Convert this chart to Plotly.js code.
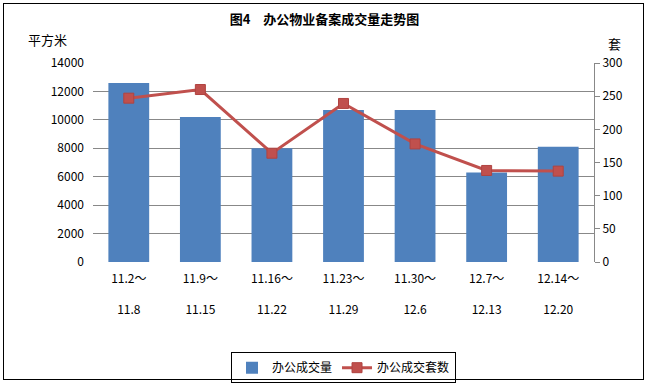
<!DOCTYPE html>
<html><head><meta charset="utf-8">
<script src="https://cdn.plot.ly/plotly-3.0.1.min.js"></script>
<style>
body{margin:0;padding:0;background:#fff;}
#wrap{position:relative;width:649px;height:385px;}
#chart{width:649px;height:385px;}
#frame{position:absolute;left:3px;top:3px;width:641px;height:377px;border:1px solid #000;box-sizing:border-box;pointer-events:none;}
</style></head>
<body>
<div id="wrap"><div id="chart"></div><div id="frame"></div></div>
<script>
const categories = ["11.2～<br><br>11.8","11.9～<br><br>11.15","11.16～<br><br>11.22","11.23～<br><br>11.29","11.30～<br><br>12.6","12.7～<br><br>12.13","12.14～<br><br>12.20"];
const areaValues = [12600, 10200, 8000, 10700, 10700, 6300, 8100];
const unitValues = [247, 260, 164, 239, 178, 138, 137];
const seriesNames = ["办公成交量", "办公成交套数"];
const fontFam = '"Noto Sans CJK SC", "DejaVu Sans", sans-serif';

const traces = [
  {type:'bar', x:categories, y:areaValues, name:seriesNames[0],
   marker:{color:'#4F81BD'}, yaxis:'y'},
  {type:'scatter', mode:'lines+markers', x:categories, y:unitValues, name:seriesNames[1],
   line:{color:'#C0504D', width:3},
   marker:{symbol:'square', size:10, color:'#C0504D', line:{color:'#B04340', width:1}},
   yaxis:'y2'}
];

const layout = {
  width:649, height:385,
  margin:{l:93, r:55, t:63, b:123, autoexpand:false},
  paper_bgcolor:'#fff', plot_bgcolor:'#fff',
  font:{family:fontFam, size:12, color:'#000'},
  title:{text:'<b>图4　办公物业备案成交量走势图</b>', x:0.5, xanchor:'center', y:0.95, yanchor:'middle',
         font:{size:13, family:fontFam, color:'#000'}},
  bargap:0.43,
  showlegend:true,
  legend:{orientation:'h', x:0.5, xanchor:'center', xref:'paper', yref:'container', y:0.045, yanchor:'middle',
          bordercolor:'#000', borderwidth:1, font:{size:12, family:fontFam},
          traceorder:'normal'},
  xaxis:{type:'category', showgrid:false, showline:false, ticks:'', zeroline:false, automargin:false,
         tickfont:{size:12, family:fontFam}, tickangle:0, ticklabelstandoff:8},
  yaxis:{range:[0,14000], dtick:2000, tickformat:'d', showgrid:true, gridcolor:'#888', gridwidth:1,
         showline:false, ticks:'', zeroline:false, automargin:false, tickfont:{size:12, family:fontFam},
         ticklabelstandoff:8},
  yaxis2:{range:[0,300], dtick:50, tickformat:'d', overlaying:'y', side:'right', showgrid:false,
          showline:true, linecolor:'#888', linewidth:1, ticks:'outside', ticklen:5, tickcolor:'#888',
          zeroline:false, automargin:false, tickfont:{size:12, family:fontFam}},
  annotations:[
    {text:'平方米', xref:'paper', yref:'paper', x:-0.09, y:1.12, xanchor:'center', yanchor:'middle',
     showarrow:false, font:{size:13, family:fontFam}},
    {text:'套', xref:'paper', yref:'paper', x:1.04, y:1.1, xanchor:'center', yanchor:'middle',
     showarrow:false, font:{size:13, family:fontFam}}
  ]
};
Plotly.newPlot('chart', traces, layout, {displayModeBar:false, staticPlot:true});
</script>
</body></html>
